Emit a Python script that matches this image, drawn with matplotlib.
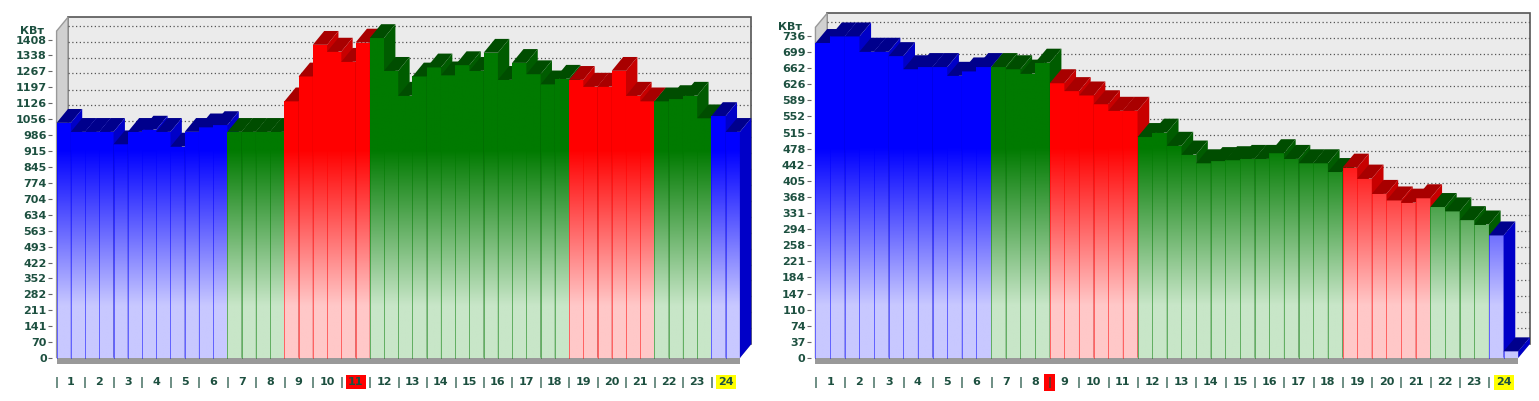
import numpy as np
import matplotlib
matplotlib.use("Agg")
import matplotlib.pyplot as plt
from matplotlib.patches import Polygon, Rectangle
import matplotlib.colors as mc

hours = list(range(1, 25))
left_ticks = [0, 70, 141, 211, 282, 352, 422, 493, 563, 634, 704, 774, 845, 915, 986, 1056, 1126, 1197, 1267, 1338, 1408]
right_ticks = [0, 37, 74, 110, 147, 184, 221, 258, 294, 331, 368, 405, 442, 478, 515, 552, 589, 626, 662, 699, 736]

left_values = [1040, 1000, 1000, 1000, 945, 1000, 1010, 1000, 935, 1000, 1020, 1030,
               1000, 1000, 1000, 1000,
               1135, 1245, 1385, 1355, 1310, 1395,
               1415, 1270, 1160, 1245, 1285, 1250, 1295, 1270, 1350, 1230, 1305, 1255, 1210, 1235,
               1230, 1200, 1200, 1270, 1160, 1135,
               1135, 1145, 1160, 1060,
               1070, 1000]
right_values = [720, 735, 735, 700, 700, 690, 660, 665, 665, 645, 655, 665,
                665, 660, 650, 675,
                628, 610, 600, 580, 565, 565,
                505, 515, 485, 465, 445, 450, 452, 455, 455, 468, 455, 445, 445, 425,
                435, 410, 375, 360, 355, 365,
                345, 335, 315, 305,
                280, 15]
hour_zone = ['b'] * 6 + ['g'] * 2 + ['r'] * 3 + ['g'] * 7 + ['r'] * 3 + ['g'] * 2 + ['b']

full = {'b': '#0000ff', 'g': '#007a00', 'r': '#ff0000'}
light = {'b': '#c8c8ff', 'g': '#c8e6c8', 'r': '#ffc8c8'}
topc = {'b': '#00008c', 'g': '#004d00', 'r': '#a80000'}
sidec = {'b': '#0000c8', 'g': '#005c00', 'r': '#c80000'}
tc = '#1d5040'

fig = plt.figure(figsize=(15.39, 4.01), dpi=100)
fig.patch.set_facecolor('white')


def draw(rect, values, ticks, ymax, highlight):
    ax = fig.add_axes(rect)
    n = len(values)
    dx, dy = 0.8, ymax * 0.04
    ax.set_xlim(-0.3, n + 1.0)
    ax.set_ylim(-ymax * 0.02, ymax)
    top = ymax * 0.985
    ax.add_patch(Rectangle((dx, dy), n, top - dy, facecolor='#ebebeb', edgecolor='#555555', lw=1.2, zorder=0))
    ax.add_patch(Polygon([(0, 0), (dx, dy), (dx, top), (0, top - dy)], closed=True, facecolor='#d0d0d0', edgecolor='#999999', zorder=0))
    step = ticks[-1] / (len(ticks) - 1)
    gl = list(ticks[1:]) + [ticks[-1] + step]
    for t in gl:
        ax.plot([dx, n + dx], [t + dy, t + dy], ls=(0, (1, 2)), color='#555555', lw=0.9, zorder=0.5)
    ax.add_patch(Polygon([(0, 0), (n, 0), (n + dx, dy), (dx, dy)], closed=True, facecolor='#aaaaaa', zorder=0.6))
    ax.add_patch(Rectangle((0, -ymax * 0.018), n, ymax * 0.018, facecolor='#999999', edgecolor='none', zorder=0.6))
    grad = np.linspace(0, 1, 256)[:, None]
    for i, v in enumerate(values):
        z = hour_zone[i // 2]
        cmap = mc.LinearSegmentedColormap.from_list('c', [(0, light[z]), (0.15, light[z]), (0.6, full[z]), (1, full[z])])
        x0, x1 = i, i + 1
        im = ax.imshow(grad, cmap=cmap, origin='lower', aspect='auto', extent=(x0, x1, 0, ymax), zorder=2 + i * 0.01)
        r = Rectangle((x0, 0), 1, v, transform=ax.transData, facecolor='none')
        im.set_clip_path(r)
        ax.plot([x0, x0], [0, v], color=full[z], lw=0.6, alpha=0.6, zorder=2 + i * 0.01 + 0.001)
        ax.add_patch(Polygon([(x0, v), (x1, v), (x1 + dx, v + dy), (x0 + dx, v + dy)], closed=True,
                             facecolor=topc[z], edgecolor='none', zorder=2 + i * 0.01 + 0.002))
        ax.add_patch(Polygon([(x1, 0), (x1 + dx, dy), (x1 + dx, v + dy), (x1, v)], closed=True,
                             facecolor=sidec[z], edgecolor='none', zorder=2 + i * 0.01 + 0.002))
    ax.set_yticks(ticks)
    ax.set_yticklabels([str(t) for t in ticks], fontsize=8, fontweight='bold', color=tc)
    ax.tick_params(axis='y', length=3, color='#666666', pad=1)
    ax.set_xticks([])
    for s in ax.spines.values():
        s.set_visible(False)
    ax.text(-0.012, 0.96, 'КВт', transform=ax.transAxes, ha='right', va='top', fontsize=8, fontweight='bold', color=tc)
    for h in hours:
        xc = 2 * (h - 1) + 1
        sep_kw = {}
        if highlight.get('sep') == h:
            sep_kw = dict(bbox=dict(boxstyle='square,pad=0.3', fc='red', ec='none'))
        ax.text(xc - 1, -ymax * 0.07, '|', ha='center', va='center', fontsize=8, fontweight='bold', color=tc, **sep_kw)
        kw = {}
        if h in highlight.get('red', []):
            kw = dict(bbox=dict(boxstyle='square,pad=0.2', fc='#ff0000', ec='none'))
        elif h == 24:
            kw = dict(bbox=dict(boxstyle='square,pad=0.2', fc='#ffff00', ec='none'))
        ax.text(xc, -ymax * 0.07, str(h), ha='center', va='center', fontsize=8, fontweight='bold', color=tc, **kw)
    return ax


draw([0.034, 0.09, 0.456, 0.88], left_values, left_ticks, 1530, {'red': [11]})
draw([0.527, 0.09, 0.469, 0.89], right_values, right_ticks, 800, {'sep': 9})
fig.savefig('out.png', dpi=100)
